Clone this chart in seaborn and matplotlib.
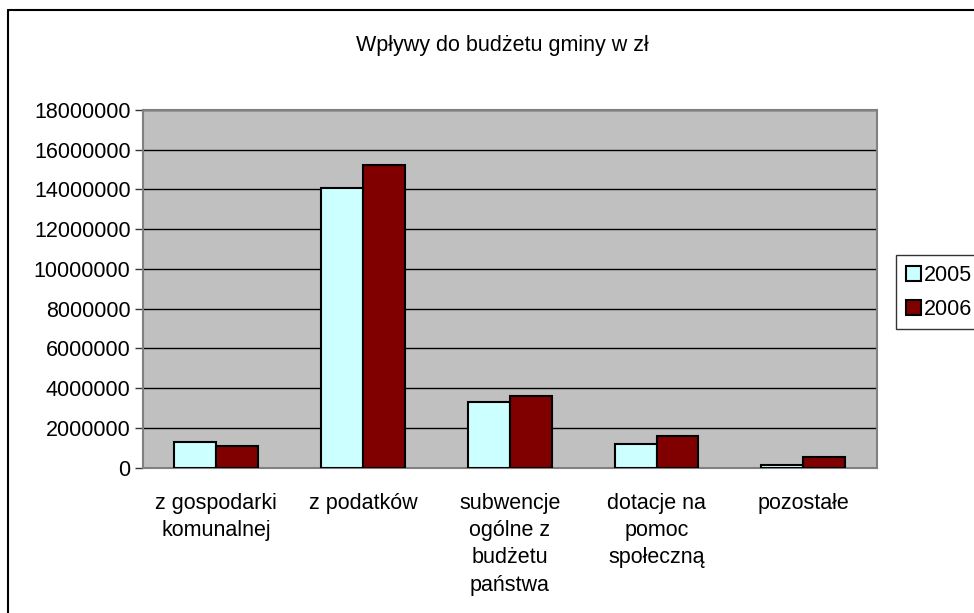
import pandas as pd
import matplotlib
matplotlib.use("Agg")
import matplotlib.pyplot as plt
import matplotlib.ticker as mticker
from matplotlib.lines import Line2D
import seaborn as sns

# Data
categories = ["z gospodarki\nkomunalnej", "z podatków",
              "subwencje\nogólne z\nbudżetu\npaństwa",
              "dotacje na\npomoc\nspołeczną", "pozostałe"]
years = ["2005", "2006"]
values_2005 = [1270000, 14070000, 3310000, 1170000, 130000]
values_2006 = [1100000, 15230000, 3600000, 1600000, 510000]

colors = {"2005": "#CCFFFF", "2006": "#800000"}

df = pd.DataFrame({
    "kategoria": categories * 2,
    "rok": ["2005"] * len(categories) + ["2006"] * len(categories),
    "wartosc": values_2005 + values_2006,
})

sns.set_theme(style="white")
plt.rcParams['font.family'] = ['Liberation Sans', 'DejaVu Sans']
plt.rcParams['text.color'] = 'black'
plt.rcParams['xtick.color'] = 'black'
plt.rcParams['ytick.color'] = 'black'
FS = 15.5

fig = plt.figure(figsize=(9.74, 6.13), dpi=100)
ax = fig.add_axes([143 / 974, 1 - 467.5 / 613, (876.7 - 143) / 974, (467.5 - 110) / 613])
ax.set_facecolor("#C0C0C0")

sns.barplot(data=df, x="kategoria", y="wartosc", hue="rok", hue_order=years,
            order=categories, palette=colors, width=0.571, edgecolor="black",
            linewidth=1.5, saturation=1, ax=ax, zorder=3)

ax.set_ylim(0, 18000000)
ax.set_xlim(-0.5, len(categories) - 0.5)
ax.yaxis.set_major_locator(mticker.MultipleLocator(2000000))
ax.yaxis.set_major_formatter(mticker.FuncFormatter(lambda v, p: f"{v:.0f}"))
ax.grid(axis="y", color="black", linewidth=1, zorder=1)
ax.set_axisbelow(True)

# ticks between categories, labels centred
ax.set_xticks(range(len(categories)))
ax.set_xticklabels(categories, fontsize=FS, linespacing=1.4, va="top")
ax.tick_params(axis="x", which="major", length=0, pad=18)
ax.set_xticks([i - 0.5 for i in range(len(categories) + 1)], minor=True)
ax.tick_params(axis="x", which="minor", length=6, width=1, color="#333333", direction="out")
ax.tick_params(axis="y", length=6, width=1, color="#333333", direction="out",
               labelsize=FS, pad=3, left=True)
ax.set_xlabel("")
ax.set_ylabel("")

for side in ["left", "bottom", "top", "right"]:
    ax.spines[side].set_color("#808080")
    ax.spines[side].set_linewidth(1.5)
    ax.spines[side].set_visible(True)

fig.text(502 / 974, 1 - 45 / 613, "Wpływy do budżetu gminy w zł", ha="center",
         va="center", fontsize=FS)

leg = ax.legend(loc="upper left", bbox_to_anchor=(896 / 974, 1 - 255 / 613),
                bbox_transform=fig.transFigure, frameon=True, fontsize=FS,
                handlelength=0.7, handleheight=0.7, handletextpad=0.15,
                borderpad=0.45, labelspacing=0.6, borderaxespad=0, fancybox=False)
leg.get_frame().set_edgecolor("black")
leg.get_frame().set_linewidth(1)
for h in leg.legend_handles:
    h.set_edgecolor("black")
    h.set_linewidth(1.5)

# chart area border (only top and left visible in the crop)
fig.add_artist(Line2D([8 / 974, 1], [1 - 10 / 613, 1 - 10 / 613], color="black",
                      linewidth=1.5, transform=fig.transFigure))
fig.add_artist(Line2D([8 / 974, 8 / 974], [0, 1 - 10 / 613], color="black",
                      linewidth=1.5, transform=fig.transFigure))

fig.savefig("out.png", dpi=100)
